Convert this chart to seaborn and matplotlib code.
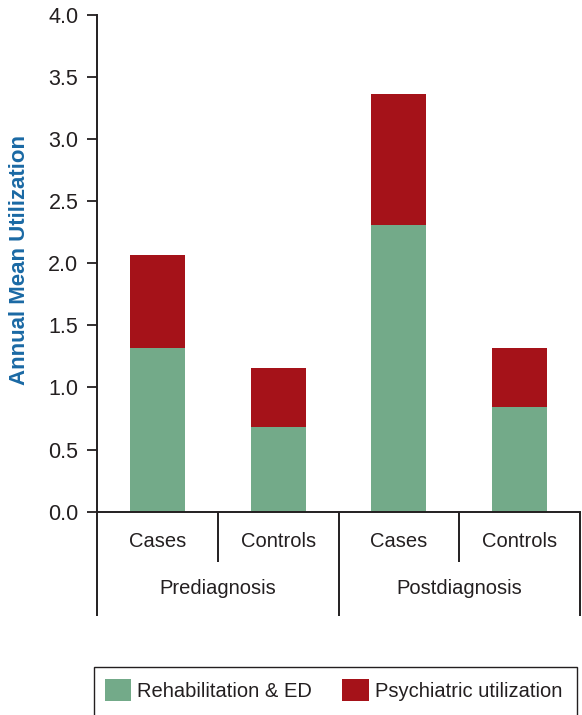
import matplotlib
matplotlib.use("Agg")
import matplotlib.pyplot as plt
from matplotlib.patches import Patch, Rectangle
import matplotlib.transforms as mtransforms
import pandas as pd
import seaborn as sns

# values
periods = ["Prediagnosis", "Prediagnosis", "Postdiagnosis", "Postdiagnosis"]
groups = ["Cases", "Controls", "Cases", "Controls"]
rehab_ed = [1.32, 0.68, 2.31, 0.84]
psychiatric = [0.75, 0.48, 1.05, 0.48]
y_ticks = [0.0, 0.5, 1.0, 1.5, 2.0, 2.5, 3.0, 3.5, 4.0]

GREEN = "#73aa89"
RED = "#a51219"
BLUE = "#1a69a4"
INK = "#231f20"

sns.set_style("ticks")
plt.rcParams["font.family"] = ["Liberation Sans", "DejaVu Sans"]

df = pd.DataFrame({
    "bar": [p + " " + g for p, g in zip(periods, groups)],
    "period": periods,
    "group": groups,
    "rehab": rehab_ed,
    "psych": psychiatric,
})
df["total"] = df["rehab"] + df["psych"]

fig = plt.figure(figsize=(5.82, 7.15), dpi=100)
ax = fig.add_axes([97 / 582, 1 - 511.6 / 715, 483 / 582, 496.6 / 715])

# stacked bars: draw totals in red, then the green part over them
sns.barplot(data=df, x="bar", y="total", color=RED, saturation=1,
            width=0.455, linewidth=0, ax=ax)
sns.barplot(data=df, x="bar", y="rehab", color=GREEN, saturation=1,
            width=0.455, linewidth=0, ax=ax)

ax.set_xlim(-0.5, 3.5)
ax.set_ylim(0, 4.0)
ax.set_yticks(y_ticks)
ax.set_yticklabels([f"{t:.1f}" for t in y_ticks], fontsize=15.5, color=INK)
ax.set_xticks([])
ax.set_xlabel("")
ax.set_ylabel("")
ax.tick_params(axis="y", direction="out", length=7.5, width=1.3,
               color=INK, pad=6)

sns.despine(ax=ax, top=True, right=True)
for side in ["left", "bottom"]:
    ax.spines[side].set_color(INK)
    ax.spines[side].set_linewidth(1.4)

# category table below the axis
trans = mtransforms.blended_transform_factory(ax.transData, ax.transAxes)
for x in [0.5, 2.5]:
    ax.plot([x, x], [0, -0.101], transform=trans, color=INK, lw=1.4,
            clip_on=False, solid_capstyle="butt")
for x in [-0.5, 1.5, 3.5]:
    ax.plot([x, x], [0, -0.210], transform=trans, color=INK, lw=1.4,
            clip_on=False, solid_capstyle="butt")

for i, g in enumerate(df["group"]):
    ax.text(i, -0.060, g, transform=trans, ha="center", va="center",
            fontsize=14.5, color=INK)
for i, p in enumerate(["Prediagnosis", "Postdiagnosis"]):
    ax.text(2 * i + 0.5, -0.155, p, transform=trans, ha="center",
            va="center", fontsize=14.5, color=INK)

fig.text(20 / 582, 1 - 260 / 715, "Annual Mean Utilization", rotation=90,
         ha="center", va="center", fontsize=16, fontweight="bold",
         color=BLUE)

# legend box
fig.patches.append(Rectangle((94 / 582, -0.01), (577 - 94) / 582,
                             (715 - 667) / 715 + 0.01,
                             transform=fig.transFigure, fill=False,
                             edgecolor=INK, linewidth=1.0))
handles = [Patch(facecolor=GREEN, edgecolor="none"),
           Patch(facecolor=RED, edgecolor="none")]
fig.legend(handles, ["Rehabilitation & ED", "Psychiatric utilization"],
           loc="center left", bbox_to_anchor=(94 / 582, 1 - 690 / 715),
           ncol=2, frameon=False, fontsize=14.5, handlelength=1.3,
           handleheight=1.3, handletextpad=0.3, columnspacing=1.5,
           borderpad=0, borderaxespad=0.55, labelcolor=INK)

fig.savefig("out.png", dpi=100)
